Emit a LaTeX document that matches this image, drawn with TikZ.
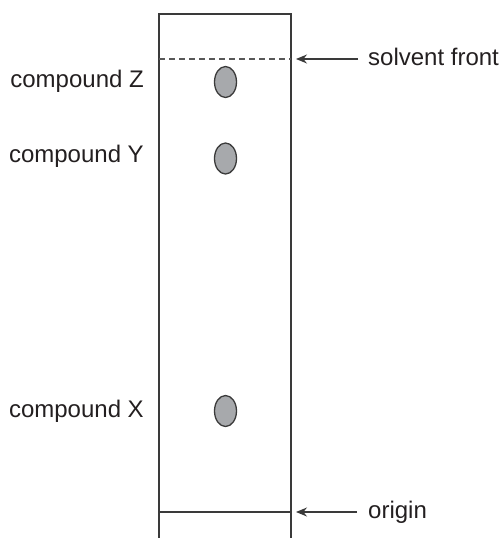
\documentclass[tikz,border=0pt]{standalone}
\usepackage{fontspec}
\setmainfont{Liberation Sans}
\usetikzlibrary{arrows.meta,shapes.geometric}
\definecolor{linegray}{HTML}{3A3A3A}
\definecolor{spotfill}{HTML}{A7A9AC}
\definecolor{txt}{HTML}{231F20}
\tikzset{
  plate/.style={draw=linegray, line width=1.4pt},
  front/.style={draw=linegray!85, line width=1.2pt, dash pattern=on 6pt off 4pt},
  spot/.style={ellipse, draw=linegray, line width=1.3pt, fill=spotfill, minimum width=22pt, minimum height=31pt, inner sep=0pt},
  lbl/.style={text=txt, font=\fontsize{24pt}{27pt}\selectfont, inner sep=0pt},
  pointer/.style={draw=linegray, line width=1.3pt, -{Stealth[length=11pt,width=9pt]}},
}
\begin{document}
\begin{tikzpicture}[x=1pt,y=-1pt]
\useasboundingbox (0,0) rectangle (502,538);
% plate
\coordinate (bl) at (159,538);
\coordinate (tl) at (159,14);
\coordinate (tr) at (291,14);
\coordinate (br) at (291,538);
\draw[plate] (bl) -- (tl) -- (tr) -- (br);
% solvent front
\coordinate (fl) at (159,59);
\coordinate (fr) at (291,59);
\draw[front] (fl) -- (fr);
% origin
\coordinate (ol) at (159,512);
\coordinate (or) at (291,512);
\draw[plate] (ol) -- (or);
% spots
\node[spot] (z) at (225.5,82) {};
\node[spot] (y) at (225.5,158.5) {};
\node[spot] (x) at (225.5,411) {};
% labels
\node[lbl, anchor=base east] (lz) at (144,87.5) {compound Z};
\node[lbl, anchor=base east] (ly) at (144,162) {compound Y};
\node[lbl, anchor=base east] (lx) at (144,417.5) {compound X};
\node[lbl, anchor=base west] (lsf) at (368,65.5) {solvent front};
\node[lbl, anchor=base west] (lor) at (368,518.5) {origin};
% pointers
\coordinate (sftail) at (358,59);
\coordinate (sftip) at (296,59);
\coordinate (ortail) at (357,512);
\coordinate (ortip) at (296,512);
\draw[pointer] (sftail) -- (sftip);
\draw[pointer] (ortail) -- (ortip);
\end{tikzpicture}
\end{document}
